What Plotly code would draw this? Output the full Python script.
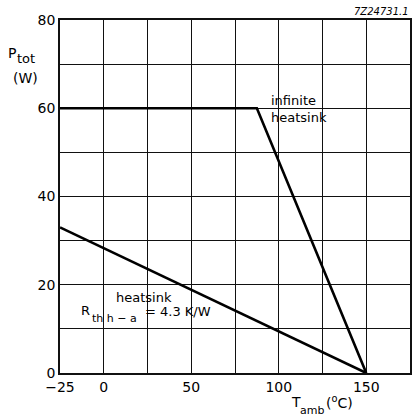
import plotly.graph_objects as go

# Data
t_infinite = [-25, 87.5, 150]
p_infinite = [60, 60, 0]
t_heatsink = [-25, 150]
p_heatsink = [33, 0]

x_tickvals = [-25, 0, 25, 50, 75, 100, 125, 150, 175]
x_ticktext = ["\u221225", "0", "", "50", "", "100", "", "150", ""]
y_tickvals = [0, 10, 20, 30, 40, 50, 60, 70, 80]
y_ticktext = ["0", "", "20", "", "40", "", "60", "", "80"]

FONT = "DejaVu Sans, Arial, sans-serif"
W, H = 412, 419
ML, MR, MT, MB = 60, 0, 20, 46
PW, PH = W - ML - MR, H - MT - MB

fig = go.Figure()
fig.add_trace(go.Scatter(x=t_infinite, y=p_infinite, mode="lines",
                         line=dict(color="black", width=2.6), hoverinfo="skip"))
fig.add_trace(go.Scatter(x=t_heatsink, y=p_heatsink, mode="lines",
                         line=dict(color="black", width=2.6), hoverinfo="skip"))

fig.update_layout(
    width=W, height=H,
    margin=dict(l=ML, r=MR, t=MT, b=MB),
    paper_bgcolor="white", plot_bgcolor="white",
    showlegend=False,
    font=dict(family=FONT, color="black", size=14),
    xaxis=dict(range=[-25, 175], tickvals=x_tickvals, ticktext=x_ticktext,
               showgrid=True, gridcolor="#111", gridwidth=1.2,
               showline=True, linecolor="#111", linewidth=1.5, mirror=True,
               ticks="", zeroline=False, tickfont=dict(size=14)),
    yaxis=dict(range=[0, 80], tickvals=y_tickvals, ticktext=y_ticktext,
               showgrid=True, gridcolor="#111", gridwidth=1.2,
               showline=True, linecolor="#111", linewidth=1.5, mirror=True,
               ticks="", zeroline=False, tickfont=dict(size=14)),
)


def px2paper(px, py):
    return (px - ML) / PW, (H - MB - py) / PH


def ann(text, px, py, size, xanchor="left"):
    x, y = px2paper(px, py)
    fig.add_annotation(xref="paper", yref="paper", x=x, y=y, text=text,
                       showarrow=False, xanchor=xanchor, yanchor="middle",
                       font=dict(size=size), borderpad=0, align="left")


def whitebox(px0, py0, px1, py1):
    x0, y1 = px2paper(px0, py0)
    x1, y0 = px2paper(px1, py1)
    fig.add_shape(type="rect", xref="paper", yref="paper", x0=x0, x1=x1,
                  y0=y0, y1=y1, fillcolor="white", line=dict(width=0),
                  layer="between")


# white areas behind labels (gridlines hidden, curves stay on top)
whitebox(262, 87, 333, 130)
whitebox(80, 289, 222, 324)

# axis titles
ann("P", 6.5, 53, 14)
ann("tot", 15.5, 59, 13)
ann("(W)", 11.5, 78, 14)
ann("T", 291, 402, 14)
ann("amb", 300, 411, 11)
ann("(<sup>o</sup>C)", 327, 402, 14)
ann("<i>7Z24731.1</i>", 412, 11.5, 10, xanchor="right")

# curve labels
ann("infinite<br>heatsink", 271.5, 109, 13)
ann("heatsink", 144.5, 297, 13, xanchor="center")
ann("R", 80.5, 310.5, 13)
ann("th h \u2212 a", 91, 318, 11)
ann("= 4.3 K/W", 144, 311, 13)

fig.write_html("out.html")
